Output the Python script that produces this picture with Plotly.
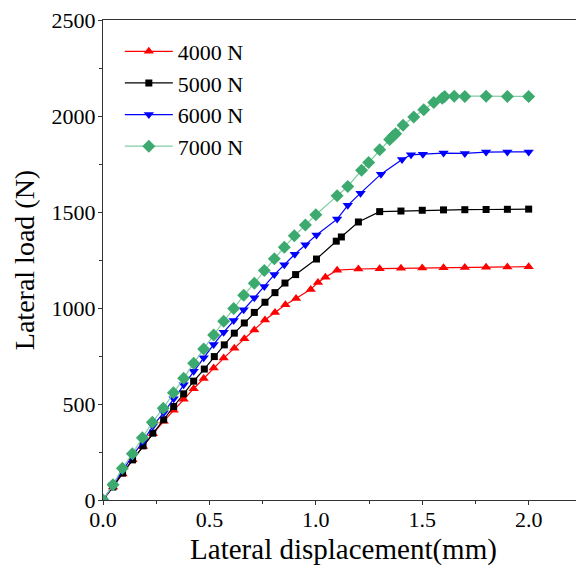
import plotly.graph_objects as go

# ---- data ----
x_4000 = [0, 0.047, 0.092, 0.139, 0.188, 0.234, 0.285, 0.332, 0.379, 0.426, 0.473, 0.52, 0.567, 0.617,
          0.664, 0.711, 0.761, 0.808, 0.857, 0.907, 0.976, 1.01, 1.045, 1.10, 1.20, 1.30, 1.40, 1.50,
          1.60, 1.70, 1.80, 1.90, 2.00]
y_4000 = [0, 68, 136, 209, 279, 345, 410, 468, 525, 580, 633, 688, 739, 791,
          840, 886, 938, 977, 1017, 1050, 1097, 1133, 1160, 1197, 1203, 1205, 1207, 1208,
          1210, 1211, 1212, 1213, 1215]

x_5000 = [0, 0.047, 0.092, 0.139, 0.188, 0.234, 0.285, 0.332, 0.379, 0.426, 0.476, 0.523, 0.570, 0.617,
          0.664, 0.711, 0.761, 0.808, 0.855, 0.905, 1.003, 1.096, 1.12, 1.20, 1.30, 1.40, 1.50,
          1.60, 1.70, 1.80, 1.90, 2.00]
y_5000 = [0, 68, 140, 209, 282, 348, 418, 487, 553, 619, 682, 747, 808, 869,
          922, 977, 1030, 1080, 1130, 1174, 1255, 1348, 1370, 1448, 1502, 1505, 1509,
          1511, 1512, 1513, 1514, 1515]

x_6000 = [0, 0.047, 0.092, 0.139, 0.188, 0.234, 0.285, 0.332, 0.379, 0.426, 0.473, 0.52, 0.567, 0.614,
          0.661, 0.711, 0.758, 0.805, 0.852, 0.901, 0.951, 1.003, 1.10, 1.15, 1.21, 1.306, 1.405,
          1.447, 1.503, 1.60, 1.70, 1.80, 1.90, 2.00]
y_6000 = [0, 78, 158, 230, 306, 385, 455, 527, 600, 671, 741, 810, 874, 935,
          991, 1053, 1112, 1174, 1225, 1280, 1329, 1380, 1463, 1535, 1598, 1697, 1773,
          1798, 1801, 1807, 1805, 1812, 1813, 1813]

x_7000 = [0, 0.047, 0.091, 0.138, 0.185, 0.232, 0.283, 0.331, 0.379, 0.426, 0.473, 0.52, 0.567, 0.614,
          0.661, 0.711, 0.758, 0.805, 0.852, 0.899, 0.951, 1.0, 1.10, 1.15, 1.215, 1.248, 1.30,
          1.347, 1.363, 1.375, 1.41, 1.46, 1.507, 1.554, 1.594, 1.605, 1.65, 1.70, 1.80, 1.90, 2.00]
y_7000 = [0, 79, 166, 241, 324, 405, 478, 558, 634, 712, 787, 860, 931, 997,
          1066, 1129, 1195, 1256, 1317, 1376, 1432, 1486, 1584, 1633, 1718, 1758, 1824,
          1878, 1896, 1907, 1952, 1995, 2032, 2070, 2093, 2101, 2103, 2102, 2103, 2102, 2102]

series = [
    ("4000 N", x_4000, y_4000, "#FF0000", "#FF0000", "triangle-up", 9),
    ("5000 N", x_5000, y_5000, "#000000", "#000000", "square", 7),
    ("6000 N", x_6000, y_6000, "#0000FF", "#0000FF", "triangle-down", 9),
    ("7000 N", x_7000, y_7000, "#7FCDA2", "#3CAA6E", "diamond", 10),
]

FONT = "Liberation Serif"

fig = go.Figure()
for name, xs, ys, lc, mc, sym, sz in series:
    fig.add_trace(go.Scatter(
        x=xs, y=ys, name=name, mode="lines+markers",
        line=dict(color=lc, width=1.2),
        marker=dict(symbol=sym, size=sz, color=mc, line=dict(width=0)),
    ))

# page body has an 8px margin, so the figure is drawn at (8, 8)
fig.update_layout(
    width=576, height=566,
    margin=dict(l=95, r=0, t=12, b=74),
    plot_bgcolor="white", paper_bgcolor="white",
    font=dict(family=FONT, size=22, color="black"),
    showlegend=True,
    legend=dict(x=0.035, y=0.978, xanchor="left", yanchor="top",
                bgcolor="rgba(0,0,0,0)", font=dict(family=FONT, size=22),
                itemwidth=48, tracegroupgap=0),
)
fig.update_xaxes(
    automargin=False,
    range=[0, 2.26], tickvals=[0, 0.5, 1.0, 1.5, 2.0], ticktext=["0.0", "0.5", "1.0", "1.5", "2.0"],
    showgrid=False, zeroline=False,
    showline=True, linecolor="#333333", linewidth=1.2, mirror=True,
    ticks="outside", ticklen=4, tickcolor="#333333",
    minor=dict(ticks="outside", ticklen=3, dtick=0.25, tick0=0, tickcolor="#333333"),
    tickfont=dict(family=FONT, size=22), ticklabelstandoff=-5, ticklabeloverflow="allow",
    title=dict(text="Lateral displacement(mm)", font=dict(family=FONT, size=29), standoff=8),
)
fig.update_yaxes(
    automargin=False,
    range=[0, 2500], dtick=500,
    showgrid=False, zeroline=False,
    showline=True, linecolor="#333333", linewidth=1.2,
    ticks="outside", ticklen=4, tickcolor="#333333",
    minor=dict(ticks="outside", ticklen=3, dtick=250, tick0=0, tickcolor="#333333"),
    tickfont=dict(family=FONT, size=22), ticklabelstandoff=-2, ticklabeloverflow="allow",
    title=dict(text="Lateral load (N)", font=dict(family=FONT, size=28), standoff=8),
)

fig.write_html("out.html")
